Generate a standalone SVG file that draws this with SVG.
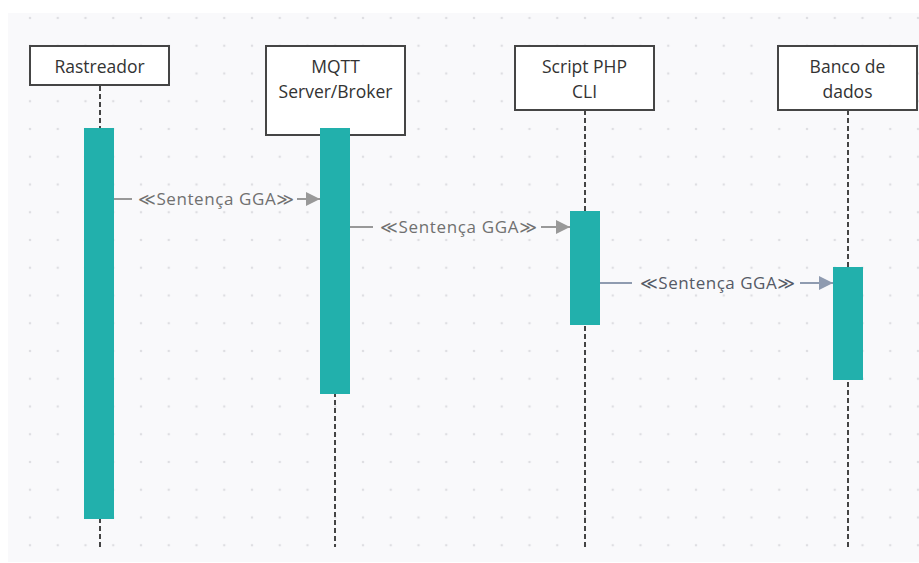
<svg xmlns="http://www.w3.org/2000/svg" width="919" height="563" viewBox="0 0 919 563">
<defs>
<pattern id="dots" x="16.1" y="4.1" width="27.75" height="27.75" patternUnits="userSpaceOnUse">
<circle cx="13.9" cy="13.9" r="1.3" fill="#dedee2"/>
</pattern>
<marker id="ahGray" viewBox="0 0 14 14" refX="14" refY="7" markerWidth="14" markerHeight="14" markerUnits="userSpaceOnUse" orient="auto">
<path d="M0,0 L14,7 L0,14 Z" fill="#999999"/>
</marker>
<marker id="ahBlue" viewBox="0 0 14 14" refX="14" refY="7" markerWidth="14" markerHeight="14" markerUnits="userSpaceOnUse" orient="auto">
<path d="M0,0 L14,7 L0,14 Z" fill="#8f9bb0"/>
</marker>
</defs>
<style>
.head{fill:#ffffff;stroke:#454545;stroke-width:2}
.ntext{font-family:"Open Sans","Noto Sans",sans-serif;font-size:17.5px;fill:#333333;text-anchor:middle}
.life{stroke:#444444;stroke-width:2;stroke-dasharray:5,3;fill:none}
.act{fill:#22b0ac}
.msg{stroke-width:2;fill:none}
.lbl{font-family:"Open Sans","Noto Sans","DejaVu Sans",sans-serif;font-size:17px;text-anchor:middle}
.lblbg{fill:#f9f9fb}
</style>
<rect x="0" y="0" width="919" height="563" fill="#ffffff"/>
<rect x="8" y="13" width="911" height="549" fill="#f9f9fb"/>
<rect x="8" y="13" width="911" height="549" fill="url(#dots)"/>

<g id="lifelines">
<line class="life" x1="100" y1="86" x2="100" y2="547"/>
<line class="life" x1="335" y1="136" x2="335" y2="547"/>
<line class="life" x1="585" y1="110" x2="585" y2="547"/>
<line class="life" x1="848" y1="110" x2="848" y2="547"/>
</g>

<g id="rastreador">
<rect class="head" x="30" y="46" width="139" height="39"/>
<text class="ntext" x="99.5" y="73">Rastreador</text>
<rect class="act" x="84" y="128" width="30" height="391"/>
</g>
<g id="mqtt">
<rect class="head" x="266" y="46" width="139" height="89"/>
<text class="ntext" x="335.5" y="73">MQTT</text>
<text class="ntext" x="335.5" y="98">Server/Broker</text>
<rect class="act" x="320" y="128" width="30" height="266"/>
</g>
<g id="script">
<rect class="head" x="515" y="46" width="139" height="64"/>
<text class="ntext" x="584.5" y="73">Script PHP</text>
<text class="ntext" x="584.5" y="98">CLI</text>
<rect class="act" x="570" y="211" width="30" height="114"/>
</g>
<g id="banco">
<rect class="head" x="778" y="46" width="139" height="64"/>
<text class="ntext" x="847.5" y="73">Banco de</text>
<text class="ntext" x="847.5" y="98">dados</text>
<rect class="act" x="833" y="267" width="30" height="113"/>
</g>

<g id="connectors">
<line class="msg" x1="114" y1="199" x2="320" y2="199" stroke="#999999" marker-end="url(#ahGray)"/>
<rect class="lblbg" x="132" y="189" width="165" height="20"/>
<text class="lbl" x="216" y="205" fill="#707070" textLength="156" lengthAdjust="spacing">≪Sentença GGA≫</text>

<line class="msg" x1="350" y1="227" x2="570" y2="227" stroke="#999999" marker-end="url(#ahGray)"/>
<rect class="lblbg" x="373" y="217" width="168" height="20"/>
<text class="lbl" x="458.5" y="233" fill="#707070" textLength="157" lengthAdjust="spacing">≪Sentença GGA≫</text>

<line class="msg" x1="600" y1="283" x2="833" y2="283" stroke="#8f9bb0" marker-end="url(#ahBlue)"/>
<rect class="lblbg" x="632" y="273" width="168" height="20"/>
<text class="lbl" x="717.5" y="289" fill="#555a66" textLength="155" lengthAdjust="spacing">≪Sentença GGA≫</text>
</g>
</svg>
